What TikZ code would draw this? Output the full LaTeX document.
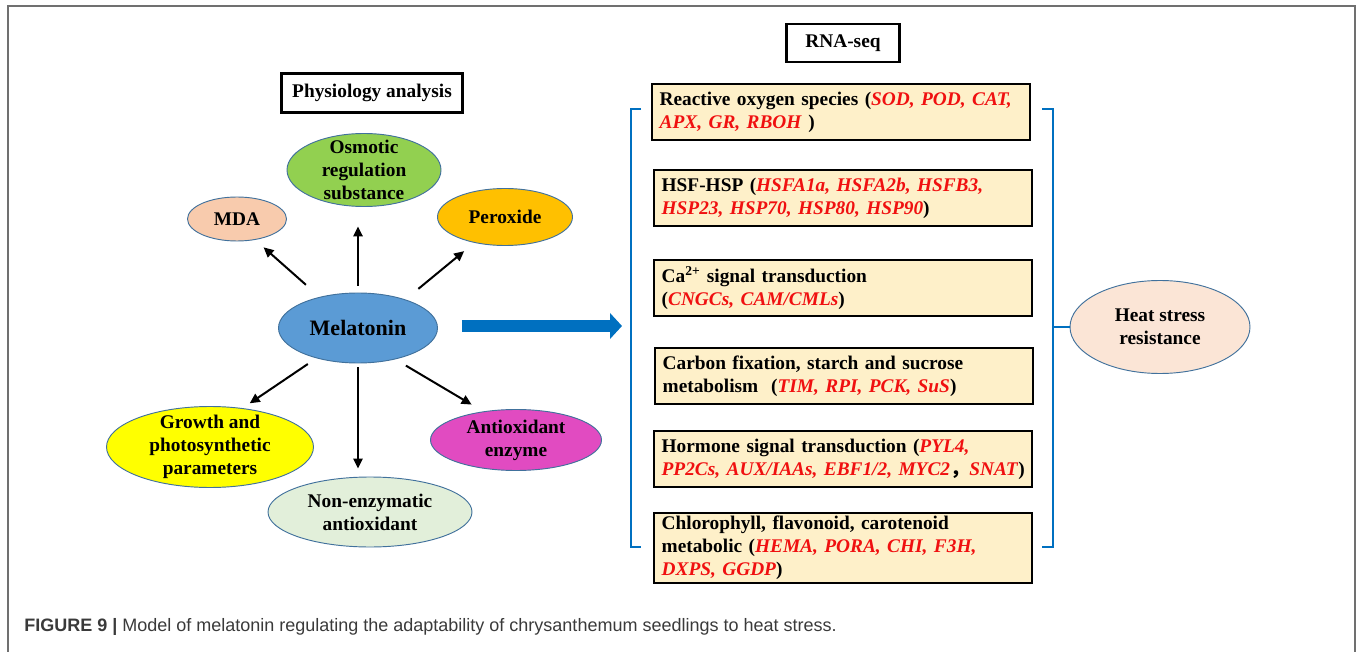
\documentclass[tikz,border=0pt]{standalone}
\usepackage{fontspec}
\setmainfont{Liberation Serif}
\newfontfamily\capfont{Liberation Sans}
\newfontfamily\cjk{Noto Sans CJK SC}
\usepackage{xcolor}
\usetikzlibrary{shapes.geometric,arrows.meta,calc}
\definecolor{ovalline}{HTML}{41719C}
\definecolor{osmfill}{HTML}{92D050}
\definecolor{mdafill}{HTML}{F8CBAD}
\definecolor{perfill}{HTML}{FFC000}
\definecolor{melfill}{HTML}{5B9BD5}
\definecolor{growfill}{HTML}{FFFF00}
\definecolor{nonfill}{HTML}{E2EFDA}
\definecolor{antifill}{HTML}{E14BC1}
\definecolor{heatfill}{HTML}{FBE5D6}
\definecolor{boxfill}{HTML}{FEF0C9}
\definecolor{rnablue}{HTML}{0070C0}
\definecolor{genered}{HTML}{F01010}
\definecolor{framegray}{HTML}{707070}
\definecolor{captext}{HTML}{3A3A3A}
\newcommand{\gene}[1]{\textcolor{genered}{\textit{#1}}}
\tikzset{
  oval/.style={ellipse, draw=ovalline, line width=0.7pt, inner sep=0pt},
  ovaltext/.style={font=\bfseries\fontsize{14.5}{17.25}\selectfont, align=center, inner sep=0pt},
  titlebox/.style={draw, line width=1.8pt, inner sep=0pt, font=\bfseries\fontsize{14.5}{17.25}\selectfont},
  genebox/.style={draw, line width=1.4pt, fill=boxfill, text width=272pt, inner xsep=5.75pt, inner ysep=0pt,
    align=left, minimum height=42pt, font=\bfseries\fontsize{14.5}{17.25}\selectfont},
  arr/.style={line width=1.5pt, -{Triangle[length=7.5pt,width=7pt]}},
  bigarr/.style={draw=rnablue, line width=9pt, -{Triangle[length=9pt,width=19pt]}},
  brk/.style={draw=rnablue, line width=2.2pt, line join=miter},
  frame/.style={draw=framegray, line width=1pt},
}
\begin{document}
\begin{tikzpicture}[x=0.75pt,y=-0.75pt]
\useasboundingbox (0,0) rectangle (1357,652);
\draw[frame] (8,652) -- (8,6) -- (1355,6) -- (1355,652);

\node[titlebox, minimum width=135.75pt, minimum height=29.25pt] at (372,93) (phys) {Physiology analysis};
\node[titlebox, minimum width=84.75pt, minimum height=28.5pt] at (843,43) (rna) {RNA-seq};

\node[oval, fill=osmfill, minimum width=115.5pt, minimum height=54.75pt] at (364,170) (osm) {};
\node[ovaltext] at (osm) (osmtext) {Osmotic\\regulation\\substance};
\node[oval, fill=mdafill, minimum width=74.25pt, minimum height=33pt] at (237,219) (mda) {};
\node[ovaltext] at (mda) (mdatext) {MDA};
\node[oval, fill=perfill, minimum width=101.25pt, minimum height=42.75pt] at (505,217) (per) {};
\node[ovaltext] at (per) (pertext) {Peroxide};
\node[oval, fill=melfill, minimum width=119.25pt, minimum height=52.5pt] at (358,328) (mel) {};
\node[ovaltext, font=\bfseries\fontsize{16.5}{19}\selectfont] at (mel) (meltext) {Melatonin};
\node[oval, fill=growfill, minimum width=155.25pt, minimum height=60.75pt] at (210,447) (grow) {};
\node[ovaltext] at (grow) (growtext) {Growth and\\photosynthetic\\parameters};
\node[oval, fill=nonfill, minimum width=153pt, minimum height=52.5pt] at (370,512) (non) {};
\node[ovaltext] at (non) (nontext) {Non-enzymatic\\antioxidant};
\node[oval, fill=antifill, minimum width=128.25pt, minimum height=45.75pt] at (516,440) (anti) {};
\node[ovaltext] at (anti) (antitext) {Antioxidant\\enzyme};

\draw[arr, shorten <=13.7pt, shorten >=8.4pt] (mel.141.6) -- (mda.-49.2);
\draw[arr, shorten <=5pt, shorten >=14.6pt] (mel.north) -- (mel.north |- osm.south);
\draw[arr, shorten <=12.5pt, shorten >=9.8pt] (mel.31.2) -- (per.220.4);
\draw[arr, shorten <=7.7pt, shorten >=6.4pt] (mel.216) -- (grow.50.2);
\draw[arr, shorten <=3pt, shorten >=6pt] (mel.south) -- (mel.south |- non.north);
\draw[arr, shorten <=9.2pt, shorten >=10pt] (mel.-40.3) -- (anti.139);

\coordinate (brl) at (631,326);
\draw[bigarr, shorten <=18pt, shorten >=6.75pt] (mel.east |- brl) -- (brl);

\node[genebox] at (841,112) (ros) {Reactive oxygen species (\gene{SOD, POD, CAT,}\\\gene{APX, GR, RBOH} )};
\node[genebox] at (843,198) (hsf) {HSF-HSP (\gene{HSFA1a, HSFA2b, HSFB3,}\\\gene{HSP23, HSP70, HSP80, HSP90})};
\node[genebox] at (843,288) (ca) {Ca\textsuperscript{2+} signal transduction\\(\gene{CNGCs, CAM/CMLs})};
\node[genebox] at (844,376) (carb) {Carbon fixation, starch and sucrose\\metabolism\ \ (\gene{TIM, RPI, PCK, SuS})};
\node[genebox] at (843,459) (horm) {Hormone signal transduction (\gene{PYL4,}\\\mbox{\gene{PP2Cs, AUX/IAAs, EBF1/2, MYC2}{\cjk ，}\gene{SNAT})}};
\node[genebox, minimum height=52.5pt] at (843,548) (chl) {Chlorophyll, flavonoid, carotenoid\\metabolic (\gene{HEMA, PORA, CHI, F3H,}\\\gene{DXPS, GGDP})};

\draw[brk] (641,109) -- (631,109) -- (631,547) -- (641,547);
\draw[brk] (1042,109) -- (1053,109) -- (1053,547) -- (1042,547);

\node[oval, fill=heatfill, minimum width=135pt, minimum height=69.75pt] at (1160,327) (heat) {};
\node[ovaltext] at (heat) (heattext) {Heat stress\\resistance};
\coordinate (brr) at (1053,327);
\draw[brk] (brr) -- (heat.west);

\node[anchor=base west, inner sep=0pt, text=captext, font=\capfont\fontsize{13.5}{16}\selectfont] at (24,631) (cap)
  {\textbf{FIGURE 9 |} Model of melatonin regulating the adaptability of chrysanthemum seedlings to heat stress.};
\end{tikzpicture}
\end{document}
